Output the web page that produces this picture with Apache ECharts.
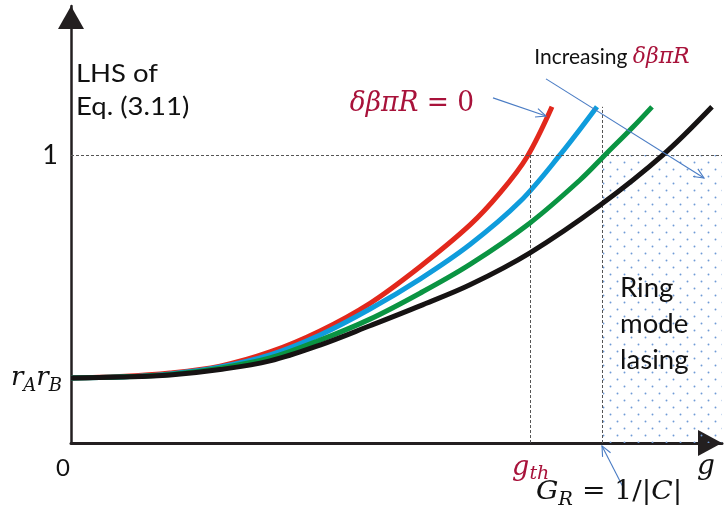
<!DOCTYPE html>
<html><head><meta charset="utf-8">
<script src="https://cdn.jsdelivr.net/npm/echarts@6/dist/echarts.min.js"></script>
<style>html,body{margin:0;padding:0;background:#fff}#c{width:728px;height:517px}</style>
</head><body><div id="c"></div>
<script>
// ---- data (g in arbitrary units, LHS value) ----
const gRed   = [0, 0.49, 0.99, 1.49, 1.99, 2.49, 2.99, 3.49, 3.99, 4.29, 4.56, 4.81];
const lRed   = [0.226, 0.231, 0.243, 0.267, 0.316, 0.389, 0.485, 0.612, 0.757, 0.868, 0.993, 1.167];
const gBlue  = [0, 0.49, 0.99, 1.49, 1.99, 2.49, 2.99, 3.49, 3.99, 4.49, 4.89, 5.26];
const lBlue  = [0.226, 0.229, 0.240, 0.264, 0.306, 0.375, 0.465, 0.569, 0.689, 0.838, 1.0, 1.167];
const gGreen = [0, 0.49, 0.99, 1.49, 1.99, 2.49, 2.99, 3.49, 3.99, 4.59, 5.09, 5.36, 5.62, 5.81];
const lGreen = [0.226, 0.229, 0.238, 0.260, 0.295, 0.357, 0.430, 0.520, 0.620, 0.764, 0.913, 1.007, 1.097, 1.167];
const gBlack = [0, 0.49, 0.99, 1.49, 1.99, 2.49, 2.99, 3.49, 3.99, 4.59, 5.29, 5.92, 6.41];
const lBlack = [0.226, 0.229, 0.236, 0.255, 0.285, 0.340, 0.407, 0.476, 0.549, 0.660, 0.825, 1.0, 1.167];
const rArB = 0.226;      // LHS at g = 0
const lhsOne = 1;        // threshold level
const gTh = 4.597;       // threshold gain
const gR = 5.317;        // G_R = 1/|C|
const gRtop = 1.167;     // top of G_R dashed line
const xMax = 6.51, yMax = 1.517;

function pairs(xs, ys){ return xs.map((x,i)=>[x, ys[i]]); }

const mathFont = '"DejaVu Serif", "Liberation Serif", serif';
const textFont = 'Lato, "Open Sans", sans-serif';
const crimson = '#a8123a';
const axisCol = '#231f20';

// dotted pattern for ring-mode lasing region
const pat = document.createElement('canvas');
pat.width = 14; pat.height = 14;
const pc = pat.getContext('2d');
pc.fillStyle = '#6f9bd6';
pc.beginPath(); pc.arc(1.5, 1.5, 0.95, 0, Math.PI*2); pc.fill();
pc.beginPath(); pc.arc(8.5, 8.5, 0.95, 0, Math.PI*2); pc.fill();

const chart = echarts.init(document.getElementById('c'), null, {renderer:'canvas'});
const dash = {color:'#555', width:1, type:[3,2]};
const option = {
  animation:false,
  backgroundColor:'#fff',
  grid:{left:71, right:6, top:6, bottom:74, containLabel:false},
  xAxis:{type:'value', min:0, max:xMax,
    splitLine:{show:false}, axisTick:{show:false},
    axisLine:{show:true, onZero:false, lineStyle:{color:axisCol, width:3},
      symbol:['none','triangle'], symbolSize:[26,24], symbolOffset:[0,-12]},
    axisLabel:{show:true, customValues:[0, gTh], margin:9,
      formatter:v => v===0 ? '{z|0}' : '{gi|g}{gs|th}',
      rich:{
        z:{fontFamily:textFont, fontSize:24, color:'#111', padding:[0,16,0,0], lineHeight:32},
        gi:{fontFamily:mathFont, fontStyle:'italic', fontSize:27, color:crimson, lineHeight:32, verticalAlign:'middle'},
        gs:{fontFamily:mathFont, fontStyle:'italic', fontSize:19, color:crimson, lineHeight:18, verticalAlign:'bottom'}
      }}
  },
  yAxis:{type:'value', min:0, max:yMax,
    splitLine:{show:false}, axisTick:{show:false},
    axisLine:{show:true, onZero:false, lineStyle:{color:axisCol, width:2.5},
      symbol:['none','triangle'], symbolSize:[26,23], symbolOffset:[0,-11.5]},
    axisLabel:{show:true, customValues:[rArB, lhsOne], margin:9,
      formatter:v => v===1 ? '{one|1}' : '{mi|r}{ms|A}{mi|r}{ms|B}',
      rich:{
        one:{fontFamily:textFont, fontSize:27, color:'#111', padding:[0,4,0,0]},
        mi:{fontFamily:mathFont, fontStyle:'italic', fontSize:26, color:'#111', lineHeight:34, verticalAlign:'middle'},
        ms:{fontFamily:mathFont, fontStyle:'italic', fontSize:18, color:'#111', lineHeight:16, verticalAlign:'bottom'}
      }}
  },
  series:[
    {type:'line', name:'red', data:pairs(gRed,lRed), smooth:0.35, showSymbol:false, silent:true,
      lineStyle:{color:'#e2281c', width:5}, z:3,
      markArea:{silent:true, itemStyle:{color:{image:pat, repeat:'repeat'}},
        data:[[{coord:[gR, lhsOne]}, {coord:[xMax, 0]}]]},
      markLine:{silent:true, symbol:['none','none'], label:{show:false}, lineStyle:dash,
        data:[
          [{coord:[0, lhsOne]}, {coord:[xMax, lhsOne]}],
          [{coord:[gTh, 0]}, {coord:[gTh, lhsOne]}],
          [{coord:[gR, 0]}, {coord:[gR, gRtop]}]
        ]}
    },
    {type:'line', name:'blue', data:pairs(gBlue,lBlue), smooth:0.35, showSymbol:false, silent:true,
      lineStyle:{color:'#0f9cdc', width:5}, z:4},
    {type:'line', name:'green', data:pairs(gGreen,lGreen), smooth:0.35, showSymbol:false, silent:true,
      lineStyle:{color:'#0a9442', width:5}, z:5},
    {type:'line', name:'black', data:pairs(gBlack,lBlack), smooth:0.35, showSymbol:false, silent:true,
      lineStyle:{color:'#161313', width:5}, z:6}
  ]
};
chart.setOption(option);

// ---- annotations positioned in data coordinates ----
const P = (g,l) => chart.convertToPixel({gridIndex:0}, [g,l]);
const texts = [
  {at:[0.05, 1.337], text:'LHS of\nEq. (3.11)', align:'left', va:'top', sx:1.1,
   font:'25px '+textFont, fill:'#111', lineHeight:33},
  {at:[3.41, 1.177], text:'{mi|δβπR}{mr| = 0}', align:'center', va:'middle', sx:0.98,
   rich:{mi:{fontFamily:mathFont, fontStyle:'italic', fontSize:27, fill:crimson},
         mr:{fontFamily:mathFont, fontSize:27, fill:crimson}}},
  {at:[5.41, 1.34], text:'{t|Increasing }{mi|δβπR}', align:'center', va:'middle',
   rich:{t:{fontFamily:textFont, fontSize:21, fill:'#111'},
         mi:{fontFamily:mathFont, fontStyle:'italic', fontSize:22, fill:crimson}}},
  {at:[5.49, 0.41], text:'Ring\nmode\nlasing', align:'left', va:'middle', sx:1.06,
   font:'26px '+textFont, fill:'#111', lineHeight:36},
  {at:[6.35, -0.083], text:'{gi|g}', align:'center', va:'middle',
   rich:{gi:{fontFamily:mathFont, fontStyle:'italic', fontSize:28, fill:'#111'}}},
  {at:[5.38, -0.17], text:'{mi|G}{ms|R}{mr| = 1/|}{mi|C}{mr||}', align:'center', va:'middle', sx:1.08,
   rich:{mi:{fontFamily:mathFont, fontStyle:'italic', fontSize:26, fill:'#111', lineHeight:34, verticalAlign:'middle'},
         ms:{fontFamily:mathFont, fontStyle:'italic', fontSize:18, fill:'#111', lineHeight:16, verticalAlign:'bottom'},
         mr:{fontFamily:mathFont, fontSize:26, fill:'#111', lineHeight:34, verticalAlign:'middle'}}}
];
const arrows = [
  {from:[4.22, 1.198], to:[4.75, 1.135]},
  {from:[4.75, 1.264], to:[6.33, 0.920]},
  {from:[5.52, -0.153], to:[5.31, -0.010]}
];
const graphic = [];
texts.forEach(t => {
  const p = P(t.at[0], t.at[1]);
  const style = {x:0, y:0, text:t.text, align:t.align, verticalAlign:t.va};
  if (t.font) style.font = t.font;
  if (t.fill) style.fill = t.fill;
  if (t.lineHeight) style.lineHeight = t.lineHeight;
  if (t.rich) style.rich = t.rich;
  graphic.push({type:'text', silent:true, z:50, x:p[0], y:p[1], scaleX:t.sx || 1, style});
});
arrows.forEach(a => {
  const p0 = P(a.from[0], a.from[1]), p1 = P(a.to[0], a.to[1]);
  const ang = Math.atan2(p1[1]-p0[1], p1[0]-p0[0]);
  const L = 11, h = 0.42;
  const l1 = [p1[0]-L*Math.cos(ang-h), p1[1]-L*Math.sin(ang-h)];
  const l2 = [p1[0]-L*Math.cos(ang+h), p1[1]-L*Math.sin(ang+h)];
  graphic.push({type:'polyline', silent:true, z:40, shape:{points:[p0,p1]}, style:{stroke:'#4a7cc4', lineWidth:1.1, fill:null}});
  graphic.push({type:'polyline', silent:true, z:40, shape:{points:[l1,p1,l2]}, style:{stroke:'#4a7cc4', lineWidth:1.1, fill:null}});
});
chart.setOption({graphic});
</script></body></html>
